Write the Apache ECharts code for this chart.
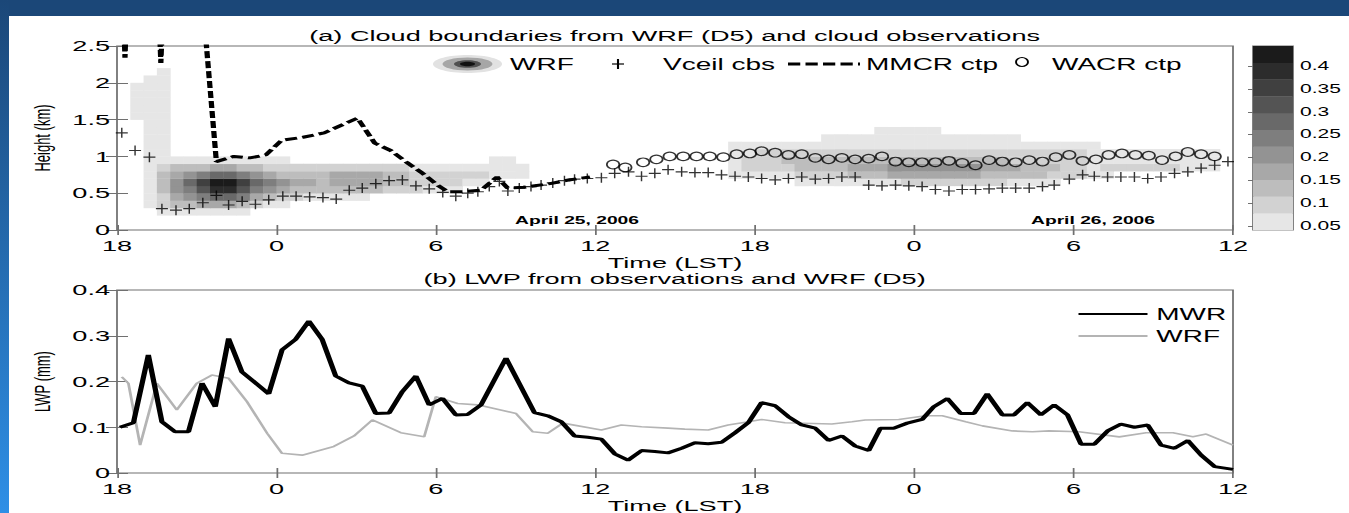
<!DOCTYPE html>
<html>
<head>
<meta charset="utf-8">
<script src="https://cdn.jsdelivr.net/npm/echarts@6/dist/echarts.min.js"></script>
<style>
html,body{margin:0;padding:0;width:1349px;height:513px;overflow:hidden;background:#fff;}
#frameTop{position:absolute;left:0;top:0;width:1349px;height:16px;background:#1b4778;}
#frameLeft{position:absolute;left:0;top:0;width:9px;height:513px;background:linear-gradient(#1b4778,#2e8fe6);}
#chart{position:absolute;left:0;top:0;height:513px;transform-origin:0 0;}
</style>
</head>
<body>
<div id="chart"></div>
<div id="frameTop"></div>
<div id="frameLeft"></div>
<script>
// ---------------- data (hours after 18 LST, 24 April 2006) ----------------
const xTickLabels = ['18', '0', '6', '12', '18', '0', '6', '12'];

// MMCR cloud-top pressure height (km); values above 2.5 leave the plot
const mmcrHours = [0.22,0.30,0.38,1.55,1.65,1.75,3.2,3.74,4.4,5.0,5.6,6.2,7.0,7.8,9.05,9.7,10.3,10.9,11.5,12.1,12.45,13.0,13.7,14.0,14.3,14.7,15.3,16.3,17.0,17.8];
const mmcrKm    = [3.2,2.34,3.2,3.2,2.27,3.2,3.2,0.93,1.0,0.98,1.02,1.22,1.26,1.32,1.52,1.18,1.08,0.92,0.77,0.6,0.52,0.52,0.54,0.63,0.72,0.57,0.58,0.63,0.68,0.72];

// Vaisala ceilometer cloud base (km)
const vceilHours = [0.18,0.68,1.22,1.69,2.22,2.72,3.23,3.74,4.20,4.71,5.21,5.71,6.24,6.74,7.25,7.75,8.25,8.74,9.23,9.74,10.24,10.74,11.25,11.75,12.26,12.75,13.20,13.58,14.01,14.39,14.71,15.14,15.58,15.96,16.40,16.84,17.22,17.70,18.23,18.73,19.25,19.74,20.24,20.74,21.25,21.75,22.25,22.75,23.26,23.76,24.26,24.77,25.27,25.77,26.28,26.78,27.28,27.78,28.29,28.79,29.30,29.80,30.30,30.80,31.31,31.81,32.31,32.82,33.32,33.82,34.33,34.83,35.27,35.84,36.34,36.78,37.28,37.78,38.29,38.79,39.29,39.80,40.30,40.80,41.31,41.81];
const vceilKm    = [1.32,1.08,0.99,0.29,0.27,0.29,0.37,0.47,0.34,0.39,0.35,0.41,0.46,0.46,0.45,0.44,0.42,0.54,0.57,0.63,0.67,0.68,0.60,0.56,0.51,0.46,0.50,0.52,0.59,0.66,0.53,0.57,0.59,0.61,0.64,0.67,0.69,0.70,0.71,0.77,0.79,0.73,0.77,0.82,0.79,0.78,0.78,0.75,0.73,0.72,0.70,0.68,0.70,0.72,0.69,0.70,0.72,0.72,0.61,0.60,0.61,0.60,0.59,0.55,0.53,0.55,0.55,0.56,0.57,0.57,0.57,0.59,0.61,0.69,0.75,0.73,0.72,0.72,0.72,0.70,0.72,0.77,0.79,0.84,0.88,0.93];

// WACR cloud top (km)
const wacrHours = [18.67,19.13,19.80,20.30,20.80,21.31,21.81,22.31,22.82,23.32,23.82,24.26,24.77,25.27,25.77,26.28,26.78,27.28,27.78,28.29,28.79,29.30,29.80,30.30,30.80,31.31,31.81,32.31,32.82,33.32,33.82,34.33,34.83,35.33,35.84,36.34,36.84,37.32,37.82,38.33,38.83,39.33,39.84,40.30,40.80,41.31];
const wacrKm    = [0.89,0.85,0.92,0.96,1.00,1.00,1.00,1.00,0.99,1.03,1.04,1.07,1.05,1.02,1.03,0.98,0.96,0.98,0.96,0.97,1.00,0.93,0.92,0.92,0.92,0.94,0.91,0.88,0.95,0.93,0.92,0.95,0.93,0.99,1.02,0.94,0.96,1.02,1.04,1.02,1.01,0.95,1.00,1.06,1.03,1.00];

// LWP (mm)
const mwrHours = [0.11,0.62,1.18,1.69,2.19,2.69,3.2,3.7,4.2,4.7,5.21,5.71,6.21,6.72,7.22,7.72,8.23,8.73,9.23,9.74,10.24,10.74,11.25,11.75,12.25,12.75,13.2,13.7,14.64,15.71,16.21,16.72,17.22,17.72,18.23,18.73,19.23,19.74,20.24,20.74,21.25,21.75,22.25,22.75,23.26,23.76,24.26,24.77,25.27,25.77,26.28,26.78,27.28,27.78,28.29,28.73,29.23,29.74,30.3,30.74,31.25,31.75,32.25,32.75,33.32,33.76,34.26,34.77,35.27,35.77,36.28,36.78,37.28,37.78,38.29,38.79,39.29,39.8,40.3,40.8,41.31,42.0];
const mwrLwp   = [0.1,0.11,0.258,0.112,0.09,0.09,0.196,0.145,0.294,0.221,0.197,0.173,0.269,0.292,0.332,0.292,0.212,0.197,0.19,0.13,0.131,0.178,0.212,0.149,0.163,0.127,0.128,0.149,0.251,0.132,0.125,0.112,0.081,0.078,0.074,0.042,0.028,0.049,0.047,0.044,0.054,0.066,0.064,0.067,0.088,0.11,0.154,0.147,0.123,0.105,0.098,0.071,0.081,0.059,0.049,0.098,0.098,0.109,0.117,0.145,0.163,0.13,0.13,0.173,0.127,0.127,0.154,0.127,0.149,0.127,0.063,0.063,0.092,0.107,0.1,0.105,0.061,0.054,0.071,0.039,0.014,0.008];
const wrfHours = [0.18,0.43,0.87,1.5,2.25,3.0,3.57,4.2,4.89,5.65,6.21,6.97,8.16,8.92,9.61,10.68,11.56,12.0,12.82,13.57,15.02,15.65,16.21,16.78,18.23,18.98,19.74,20.74,21.37,22.25,23.0,23.76,24.26,25.14,26.9,27.66,28.16,29.42,30.43,31.06,31.94,32.57,33.7,34.45,35.08,36.2,37.72,38.73,39.74,40.49,40.99,42.0];
const wrfLwp   = [0.21,0.196,0.061,0.196,0.138,0.196,0.214,0.207,0.156,0.087,0.043,0.039,0.058,0.081,0.116,0.088,0.079,0.167,0.152,0.149,0.13,0.09,0.087,0.109,0.094,0.105,0.101,0.098,0.096,0.094,0.105,0.112,0.117,0.11,0.107,0.112,0.116,0.117,0.125,0.125,0.112,0.103,0.092,0.09,0.092,0.09,0.079,0.088,0.088,0.079,0.085,0.061];

// WRF cloud water field: contour level (1..11, hex digit) read per 0.5 h column and 0.1 km row
const cloudColHours = 0.5;
const cloudRowKm = 0.1;
const cloudRows = [
  [2,  [[3, '1111111']]],
  [3,  [[2, '12334443211']]],
  [4,  [[2, '12456776432211111']]],
  [5,  [[2, '13568aa86543333333222111']]],
  [6,  [[2, '13579bb9765443444433222211'], [51, '11111111222222221111']]],
  [7,  [[2, '13456776543333444433222222111'], [46, '11111222233344444443333322211']]],
  [8,  [[2, '12333443322222222222111111111'], [46, '1222233334445555555444333221222222111']]],
  [9,  [[2, '11111111111'], [28, '11'], [46, '1222333333333333333332222221111111111']]],
  [10, [[2, '11'], [46, '1122222222222222222222222221111111111']]],
  [11, [[2, '11'], [46, '1111111111111111111111111111']]],
  [12, [[2, '11'], [53, '111111111111111']]],
  [13, [[2, '11'], [57, '11111']]],
  [14, [[2, '11']]],
  [15, [[1, '111']]],
  [16, [[1, '111']]],
  [17, [[1, '111']]],
  [18, [[1, '111']]],
  [19, [[1, '111']]],
  [20, [[2, '11']]],
  [21, [[3, '1']]]
];

// colour bar (cloud water levels)
const cbMin = 0.0413;
const cbStep = 0.0366;
const cbLevelCount = 11;
const cbTicks = [0.05, 0.1, 0.15, 0.2, 0.25, 0.3, 0.35, 0.4];
const levelColors = ['#e6e6e6','#d2d2d2','#bdbdbd','#a8a8a8','#939393','#7e7e7e','#696969','#545454','#404040','#2c2c2c','#1b1b1b'];

// ---------------- layout ----------------
const S = 1.75;                 // horizontal stretch of the original figure
const W = 1349 / S;
const px = v => v / S;          // page px (horizontal) -> chart px
const FONT = "'Liberation Sans', Arial, Helvetica, sans-serif";
const GRAY = '#707070';

const chartEl = document.getElementById('chart');
chartEl.style.width = W + 'px';
chartEl.style.transform = 'scaleX(' + S + ')';
const chart = echarts.init(chartEl, null, { renderer: 'svg' });

const zip = (a, b) => a.map((v, i) => [v, b[i]]);
const cloudCells = [];
cloudRows.forEach(([row, segs]) => {
  segs.forEach(([c0, s]) => {
    for (let i = 0; i < s.length; i++) {
      const lev = parseInt(s[i], 16);
      if (lev > 0) cloudCells.push([(c0 + i) * cloudColHours, row * cloudRowKm, cbMin + (lev - 0.5) * cbStep]);
    }
  });
});
const cbBands = [];
for (let k = 0; k < cbLevelCount; k++) cbBands.push([0, cbMin + k * cbStep, cbMin + (k + 0.5) * cbStep]);

const plusPath = 'path://M0,4.4H10V5.6H0Z M4.4,0H5.6V10H4.4Z';

const gridDefs = [
  { left: px(117), width: px(1116), top: 46, height: 184 },
  { left: px(117), width: px(1116), top: 290, height: 183 },
  { left: px(1253), width: px(40), top: 46, height: 184 }
].map(g => Object.assign({ show: true, borderColor: GRAY, borderWidth: 1, backgroundColor: 'transparent', containLabel: false, outerBoundsMode: 'none' }, g));

function timeAxis(gridIndex, position, labels) {
  return {
    type: 'value', gridIndex, position, min: 0, max: 42, interval: 6,
    axisLine: { show: false }, splitLine: { show: false },
    axisTick: { show: true, inside: true, length: 5, lineStyle: { color: GRAY } },
    axisLabel: labels ? { show: true, margin: 8, fontSize: 15.5, lineHeight: 15, color: '#000', fontFamily: FONT,
      formatter: v => xTickLabels[Math.round(v / 6)] } : { show: false },
    name: labels ? 'Time (LST)' : '', nameLocation: 'middle', nameGap: 25,
    nameTextStyle: { fontSize: 15.5, lineHeight: 15, color: '#000', fontFamily: FONT }
  };
}
function valAxis(gridIndex, position, min, max, interval, name) {
  return {
    type: 'value', gridIndex, position, min, max, interval,
    axisLine: { show: false }, splitLine: { show: false },
    axisTick: { show: true, inside: true, length: px(11), lineStyle: { color: GRAY } },
    axisLabel: name ? { show: true, margin: 4, fontSize: 15.5, lineHeight: 12, color: '#000', fontFamily: FONT } : { show: false },
    name: name || '', nameLocation: 'middle', nameGap: 36,
    nameTextStyle: { fontSize: 13, color: '#000', fontFamily: FONT }
  };
}

const legendY = 64;
const txt = (text, x, y, size, align, weight) => ({
  type: 'text', x, y, silent: true,
  style: { text, fill: '#000', font: (weight || 'normal') + ' ' + size + 'px ' + FONT,
    align: align, verticalAlign: 'middle', textAlign: align, textVerticalAlign: 'middle' }
});

const option = {
  animation: false,
  textStyle: { fontFamily: FONT },
  title: [
    { text: '(a) Cloud boundaries from WRF (D5) and cloud observations', left: 'center', top: 23,
      textStyle: { fontSize: 15.5, fontWeight: 'normal', color: '#000', fontFamily: FONT } },
    { text: '(b) LWP from observations and WRF (D5)', left: 'center', top: 266,
      textStyle: { fontSize: 15.5, fontWeight: 'normal', color: '#000', fontFamily: FONT } }
  ],
  grid: gridDefs,
  xAxis: [
    timeAxis(0, 'bottom', true),
    timeAxis(0, 'top', false),
    timeAxis(1, 'bottom', true),
    timeAxis(1, 'top', false),
    { type: 'value', gridIndex: 2, min: 0, max: 1, show: false }
  ],
  yAxis: [
    valAxis(0, 'left', 0, 2.5, 0.5, 'Height (km)'),
    valAxis(0, 'right', 0, 2.5, 0.5, null),
    valAxis(1, 'left', 0, 0.4, 0.1, 'LWP (mm)'),
    valAxis(1, 'right', 0, 0.4, 0.1, null),
    {
      type: 'value', gridIndex: 2, position: 'right', min: cbMin, max: cbMin + cbLevelCount * cbStep,
      axisLine: { show: false }, splitLine: { show: false },
      axisTick: { show: true, inside: true, length: px(5), lineStyle: { color: GRAY }, customValues: cbTicks },
      axisLabel: { show: true, margin: 4, fontSize: 12, color: '#000', fontFamily: FONT, customValues: cbTicks,
        formatter: v => String(Math.round(v * 100) / 100) }
    }
  ],
  visualMap: {
    type: 'piecewise', show: false, dimension: 2, seriesIndex: [0, 4],
    pieces: levelColors.map((c, i) => ({ gte: cbMin + i * cbStep, lt: cbMin + (i + 1) * cbStep, color: c }))
  },
  legend: {
    data: ['MWR', 'WRF'], orient: 'vertical', left: px(1068), top: 301,
    itemWidth: px(69), itemHeight: 14, itemGap: 6, selectedMode: false,
    itemStyle: { opacity: 0 },
    textStyle: { fontSize: 16, color: '#000', fontFamily: FONT }
  },
  series: [
    {
      name: 'WRF cloud water', type: 'custom', xAxisIndex: 0, yAxisIndex: 0, silent: true, z: 1,
      dimensions: ['t', 'h', 'q'], encode: { x: 0, y: 1 }, data: cloudCells,
      renderItem: (params, api) => {
        const p0 = api.coord([api.value(0), api.value(1) + cloudRowKm]);
        const p1 = api.coord([api.value(0) + cloudColHours, api.value(1)]);
        return { type: 'rect', shape: { x: p0[0], y: p0[1], width: p1[0] - p0[0] + 0.3, height: p1[1] - p0[1] + 0.3 },
          style: { fill: api.visual('color') } };
      }
    },
    {
      name: 'MMCR ctp', type: 'line', xAxisIndex: 0, yAxisIndex: 0, z: 3, symbol: 'none', clip: true,
      data: zip(mmcrHours, mmcrKm), lineStyle: { color: '#000', width: 3, type: [7, 3] }
    },
    {
      name: 'Vceil cbs', type: 'scatter', xAxisIndex: 0, yAxisIndex: 0, z: 4,
      symbol: plusPath, symbolSize: [px(12), 10], data: zip(vceilHours, vceilKm),
      itemStyle: { color: '#000' }
    },
    {
      name: 'WACR ctp', type: 'scatter', xAxisIndex: 0, yAxisIndex: 0, z: 4,
      symbol: 'circle', symbolSize: [px(12.5), 8.5], data: zip(wacrHours, wacrKm),
      itemStyle: { color: 'rgba(0,0,0,0)', borderColor: '#000', borderWidth: 1.1 }
    },
    {
      name: 'colour bar', type: 'custom', xAxisIndex: 4, yAxisIndex: 4, silent: true, z: 1,
      dimensions: ['x', 'lo', 'q'], encode: { x: 0, y: 1 }, data: cbBands,
      renderItem: (params, api) => {
        const p0 = api.coord([0, api.value(1) + cbStep]);
        const p1 = api.coord([1, api.value(1)]);
        return { type: 'rect', shape: { x: p0[0], y: p0[1], width: p1[0] - p0[0], height: p1[1] - p0[1] + 0.3 },
          style: { fill: api.visual('color') } };
      }
    },
    {
      name: 'MWR', type: 'line', xAxisIndex: 2, yAxisIndex: 2, z: 4, symbol: 'none',
      data: zip(mwrHours, mwrLwp), lineStyle: { color: '#000', width: 3 }, itemStyle: { color: '#000' }
    },
    {
      name: 'WRF', type: 'line', xAxisIndex: 2, yAxisIndex: 2, z: 3, symbol: 'none',
      data: zip(wrfHours, wrfLwp), lineStyle: { color: '#b4b4b4', width: 1.6 }, itemStyle: { color: '#b4b4b4' }
    }
  ],
  graphic: [
    // legend of panel (a)
    { type: 'ellipse', silent: true, shape: { cx: px(467.5), cy: legendY, rx: px(34.5), ry: 9 }, style: { fill: '#e2e2e2' } },
    { type: 'ellipse', silent: true, shape: { cx: px(467.5), cy: legendY, rx: px(25), ry: 6.5 }, style: { fill: '#a6a6a6' } },
    { type: 'ellipse', silent: true, shape: { cx: px(467.5), cy: legendY, rx: px(13.5), ry: 3.8 }, style: { fill: '#505050' } },
    { type: 'ellipse', silent: true, shape: { cx: px(467.5), cy: legendY, rx: px(7.5), ry: 2.2 }, style: { fill: '#111' } },
    txt('WRF', px(510), legendY, 16, 'left'),
    { type: 'line', silent: true, shape: { x1: px(612), y1: legendY, x2: px(624), y2: legendY }, style: { stroke: '#000', lineWidth: 1.2 } },
    { type: 'line', silent: true, shape: { x1: px(618), y1: legendY - 5, x2: px(618), y2: legendY + 5 }, style: { stroke: '#000', lineWidth: 1.2 } },
    txt('Vceil cbs', px(663), legendY, 16, 'left'),
    { type: 'line', silent: true, shape: { x1: px(788), y1: legendY, x2: px(860), y2: legendY }, style: { stroke: '#000', lineWidth: 3, lineDash: [7, 3] } },
    txt('MMCR ctp', px(866), legendY, 16, 'left'),
    { type: 'ellipse', silent: true, shape: { cx: px(1022), cy: legendY - 2, rx: px(6), ry: 4.5 }, style: { fill: 'none', stroke: '#000', lineWidth: 1.1 } },
    txt('WACR ctp', px(1052), legendY, 16, 'left'),
    // date annotations
    txt('April 25, 2006', px(577), 220, 11, 'center', 'bold'),
    txt('April 26, 2006', px(1093), 220, 11, 'center', 'bold')
  ]
};
chart.setOption(option);
</script>
</body>
</html>
